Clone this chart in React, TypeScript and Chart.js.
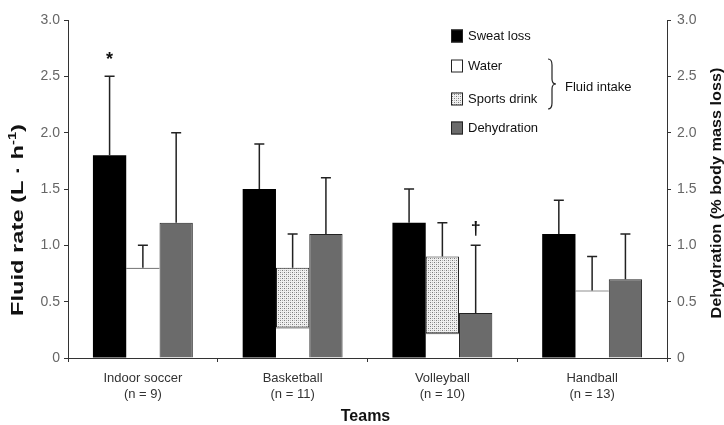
import React, { useEffect, useRef } from "react";
import { Chart, registerables } from "chart.js";

Chart.register(...registerables);

// ---- Data ----
const teams: string[][] = [
  ["Indoor soccer", "(n = 9)"],
  ["Basketball", "(n = 11)"],
  ["Volleyball", "(n = 10)"],
  ["Handball", "(n = 13)"],
];
const sweatLoss = [1.8, 1.5, 1.2, 1.1];
const sweatLossErrTop = [2.5, 1.9, 1.5, 1.4];
const water = [0.8, 0.27, 0.22, 0.6];
const sportsDrink: (number | null)[] = [null, 0.53, 0.68, null];
const fluidIntakeErrTop = [1.0, 1.1, 1.2, 0.9];
const dehydration = [1.2, 1.1, 0.4, 0.7];
const dehydrationErrTop = [2.0, 1.6, 1.0, 1.1];
const sweatMarks = ["*", "", "", ""];
const dehydrationMarks = ["", "", "†", ""];
const axisMin = 0;
const axisMax = 3;
const axisStep = 0.5;

const FONT = "'Liberation Sans', Arial, sans-serif";

function makeDotPattern(): CanvasPattern | string {
  const c = document.createElement("canvas");
  c.width = 4;
  c.height = 4;
  const g = c.getContext("2d");
  if (!g) return "#cccccc";
  g.fillStyle = "#f0f0f0";
  g.fillRect(0, 0, 4, 4);
  g.fillStyle = "#7a7a7a";
  g.fillRect(0, 0, 1, 1);
  g.fillRect(2, 2, 1, 1);
  g.fillStyle = "#b5b5b5";
  g.fillRect(2, 0, 1, 1);
  g.fillRect(0, 2, 1, 1);
  const p = g.createPattern(c, "repeat");
  return p || "#cccccc";
}

function drawStretchedText(
  ctx: CanvasRenderingContext2D,
  parts: { t: string; sup?: boolean }[],
  x: number,
  y: number,
  rot: number,
  size: number,
  targetLen: number
) {
  ctx.save();
  ctx.translate(x, y);
  ctx.rotate(rot);
  const mainFont = `bold ${size}px ${FONT}`;
  const supFont = `bold ${Math.round(size * 0.62)}px ${FONT}`;
  let total = 0;
  for (const p of parts) {
    ctx.font = p.sup ? supFont : mainFont;
    total += ctx.measureText(p.t).width;
  }
  const sx = targetLen / total;
  ctx.scale(sx, 1);
  ctx.textBaseline = "middle";
  ctx.textAlign = "left";
  ctx.fillStyle = "#111";
  let cx = -total / 2;
  for (const p of parts) {
    ctx.font = p.sup ? supFont : mainFont;
    ctx.fillText(p.t, cx, p.sup ? -size * 0.35 : 0);
    cx += ctx.measureText(p.t).width;
  }
  ctx.restore();
}

const errorBarPlugin = {
  id: "errorBars",
  afterDatasetsDraw(chart: any) {
    const ctx: CanvasRenderingContext2D = chart.ctx;
    const groups = [
      { ds: [0], err: sweatLossErrTop, marks: sweatMarks },
      { ds: [1, 2], err: fluidIntakeErrTop, marks: null as string[] | null },
      { ds: [3], err: dehydrationErrTop, marks: dehydrationMarks },
    ];
    ctx.save();
    for (const g of groups) {
      const meta0 = chart.getDatasetMeta(g.ds[0]);
      const yScale = chart.scales[meta0.yAxisID];
      for (let i = 0; i < teams.length; i++) {
        const el = meta0.data[i];
        if (!el) continue;
        const x = el.x;
        let total = 0;
        for (const d of g.ds) {
          const v = chart.data.datasets[d].data[i];
          if (typeof v === "number") total += v;
        }
        const y0 = yScale.getPixelForValue(total);
        const y1 = yScale.getPixelForValue(g.err[i]);
        ctx.strokeStyle = "#222";
        ctx.lineWidth = 1.5;
        ctx.beginPath();
        ctx.moveTo(x, y0);
        ctx.lineTo(x, y1);
        ctx.moveTo(x - 5, y1);
        ctx.lineTo(x + 5, y1);
        ctx.stroke();
        if (g.marks && g.marks[i]) {
          ctx.fillStyle = "#111";
          ctx.font = `bold 18px ${FONT}`;
          ctx.textAlign = "center";
          ctx.textBaseline = "middle";
          ctx.fillText(g.marks[i], x, y1 - 16);
        }
      }
    }
    ctx.restore();
  },
};

const decorPlugin = {
  id: "decor",
  afterDraw(chart: any) {
    const ctx: CanvasRenderingContext2D = chart.ctx;
    const area = chart.chartArea;
    // Axis titles
    drawStretchedText(
      ctx,
      [{ t: "Fluid rate (L · h" }, { t: "-1", sup: true }, { t: ")" }],
      19,
      220,
      -Math.PI / 2,
      16,
      192
    );
    drawStretchedText(
      ctx,
      [{ t: "Dehydration (% body mass loss)" }],
      717,
      193,
      -Math.PI / 2,
      14,
      251
    );
    ctx.save();
    ctx.font = `bold 16px ${FONT}`;
    ctx.fillStyle = "#111";
    ctx.textAlign = "center";
    ctx.textBaseline = "middle";
    ctx.fillText("Teams", (area.left + area.right) / 2 - 2, 417);
    ctx.restore();

    // Legend
    const rows = [36, 66, 99, 128];
    const boxX = 451;
    ctx.save();
    chart.data.datasets.forEach((ds: any, i: number) => {
      const cy = rows[i];
      ctx.fillStyle = ds.backgroundColor;
      ctx.fillRect(boxX, cy - 6.5, 12, 13);
      ctx.strokeStyle = "#222";
      ctx.lineWidth = 1;
      ctx.strokeRect(boxX + 0.5, cy - 6, 11, 12);
      ctx.fillStyle = "#111";
      ctx.font = `13px ${FONT}`;
      ctx.textAlign = "left";
      ctx.textBaseline = "middle";
      ctx.fillText(ds.label, boxX + 17, cy);
    });
    // Brace for fluid intake
    const bx = 548;
    const top = rows[1] - 7;
    const bot = rows[2] + 10;
    const mid = (top + bot) / 2;
    ctx.strokeStyle = "#222";
    ctx.lineWidth = 1.2;
    ctx.beginPath();
    ctx.moveTo(bx, top);
    ctx.quadraticCurveTo(bx + 4, top, bx + 4, top + 6);
    ctx.lineTo(bx + 4, mid - 5);
    ctx.quadraticCurveTo(bx + 4, mid, bx + 8, mid);
    ctx.quadraticCurveTo(bx + 4, mid, bx + 4, mid + 5);
    ctx.lineTo(bx + 4, bot - 6);
    ctx.quadraticCurveTo(bx + 4, bot, bx, bot);
    ctx.stroke();
    ctx.fillStyle = "#111";
    ctx.font = `13px ${FONT}`;
    ctx.textAlign = "left";
    ctx.textBaseline = "middle";
    ctx.fillText("Fluid intake", 565, mid + 3);
    ctx.restore();
  },
};

const tickLabel = (v: any) => {
  const n = Number(v);
  return n === 0 ? "0" : n.toFixed(1);
};

export default function App() {
  const ref = useRef<HTMLCanvasElement | null>(null);
  useEffect(() => {
    if (!ref.current) return;
    const dots = makeDotPattern();
    const chart = new Chart(ref.current, {
      type: "bar",
      data: {
        labels: teams,
        datasets: [
          {
            label: "Sweat loss",
            data: sweatLoss,
            backgroundColor: "#000000",
            borderWidth: 0,
            stack: "sweat",
            yAxisID: "y",
          },
          {
            label: "Water",
            data: water,
            backgroundColor: "#ffffff",
            borderColor: "#222",
            borderWidth: { top: 1, left: 0, right: 0, bottom: 0 },
            borderSkipped: false,
            stack: "intake",
            yAxisID: "y",
          },
          {
            label: "Sports drink",
            data: sportsDrink,
            backgroundColor: dots as any,
            borderColor: "#222",
            borderWidth: 1,
            borderSkipped: false,
            stack: "intake",
            yAxisID: "y",
          },
          {
            label: "Dehydration",
            data: dehydration,
            backgroundColor: "#6b6b6b",
            borderColor: "#222",
            borderWidth: 1,
            stack: "dehyd",
            yAxisID: "y1",
          },
        ],
      } as any,
      options: {
        animation: false,
        responsive: false,
        maintainAspectRatio: false,
        layout: { padding: { top: 20, left: 0, right: 0, bottom: 0 } },
        datasets: { bar: { categoryPercentage: 0.667, barPercentage: 1.0 } } as any,
        plugins: {
          legend: { display: false },
          tooltip: { enabled: false },
          title: { display: false },
        },
        scales: {
          x: {
            grid: {
              display: true,
              drawOnChartArea: false,
              drawTicks: true,
              tickLength: 4,
              offset: true,
              color: "#333",
            },
            border: { display: true, color: "#333", width: 1 },
            ticks: {
              color: "#333",
              font: { family: FONT, size: 13, lineHeight: 1.25 },
              padding: 8,
              maxRotation: 0,
              autoSkip: false,
            },
            afterFit: (s: any) => {
              s.height = 67;
            },
          },
          y: {
            position: "left",
            min: axisMin,
            max: axisMax,
            ticks: {
              stepSize: axisStep,
              callback: tickLabel,
              color: "#666",
              font: { family: FONT, size: 14 },
              padding: 4,
            },
            grid: { drawOnChartArea: false, tickLength: 4, color: "#333" },
            border: { color: "#333", width: 1 },
            afterFit: (s: any) => {
              s.width = 68;
            },
          },
          y1: {
            position: "right",
            min: axisMin,
            max: axisMax,
            ticks: {
              stepSize: axisStep,
              callback: tickLabel,
              color: "#666",
              font: { family: FONT, size: 14 },
              padding: 6,
            },
            grid: { drawOnChartArea: false, tickLength: 4, color: "#333" },
            border: { color: "#333", width: 1 },
            afterFit: (s: any) => {
              s.width = 57;
            },
          },
        },
      } as any,
      plugins: [errorBarPlugin, decorPlugin],
    });
    return () => chart.destroy();
  }, []);
  return (
    <div
      style={{
        position: "absolute",
        left: 0,
        top: 0,
        width: 724,
        height: 425,
        background: "#ffffff",
      }}
    >
      <canvas ref={ref} width={724} height={425} style={{ display: "block" }} />
    </div>
  );
}
